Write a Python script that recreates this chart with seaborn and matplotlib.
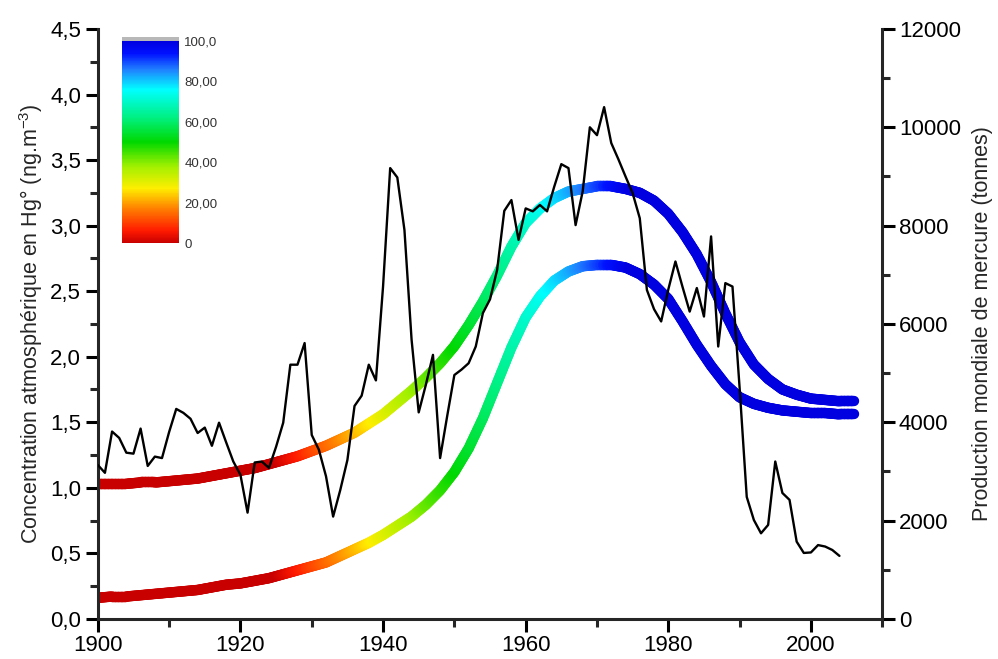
import numpy as np
import pandas as pd
import matplotlib
matplotlib.use("Agg")
import matplotlib.pyplot as plt
import seaborn as sns
from matplotlib.collections import LineCollection
from matplotlib.colors import LinearSegmentedColormap, Normalize
from matplotlib.cm import ScalarMappable
from matplotlib.ticker import MultipleLocator

# Données
# Production mondiale de mercure (tonnes), une valeur par année 1900-2004
annees_prod = np.arange(1900, 2005)
production = [
    3130, 2970, 3810, 3680, 3380, 3360, 3870, 3110, 3300, 3270,
    3800, 4270, 4190, 4070, 3780, 3890, 3520, 3990, 3590, 3200,
    2930, 2160, 3180, 3200, 3070, 3500, 3990, 5170, 5170, 5610,
    3740, 3440, 2900, 2080, 2620, 3230, 4330, 4540, 5170, 4850,
    6760, 9170, 8980, 7910, 5680, 4200, 4760, 5370, 3270, 4130,
    4960, 5070, 5200, 5540, 6220, 6500, 7100, 8300, 8520, 7710,
    8350, 8290, 8420, 8290, 8790, 9250, 9170, 8010, 8700, 10000,
    9840, 10410, 9680, 9350, 9000, 8660, 8150, 6690, 6300, 6050,
    6700, 7270, 6750, 6250, 6730, 6150, 7780, 5540, 6830, 6760,
    4700, 2480, 2010, 1740, 1910, 3200, 2560, 2420, 1570, 1340,
    1350, 1500, 1470, 1400, 1280,
]

# Concentrations atmosphériques reconstituées (ng.m-3), tous les 2 ans 1900-2006
annees_conc = np.arange(1900, 2007, 2)
conc_haute = [
    1.03, 1.03, 1.03, 1.04, 1.04, 1.05, 1.06, 1.07, 1.09, 1.11,
    1.13, 1.15, 1.18, 1.21, 1.24, 1.28, 1.32, 1.37, 1.42, 1.49,
    1.56, 1.65, 1.74, 1.84, 1.95, 2.08, 2.24, 2.42, 2.62, 2.84,
    3.02, 3.13, 3.21, 3.26, 3.28, 3.30, 3.30, 3.28, 3.25, 3.19,
    3.09, 2.95, 2.78, 2.57, 2.33, 2.11, 1.94, 1.83, 1.75, 1.71,
    1.68, 1.67, 1.66, 1.66,
]
conc_basse = [
    0.16, 0.17, 0.17, 0.18, 0.19, 0.20, 0.21, 0.22, 0.24, 0.26,
    0.27, 0.29, 0.31, 0.34, 0.37, 0.40, 0.43, 0.48, 0.53, 0.58,
    0.64, 0.71, 0.78, 0.87, 0.98, 1.12, 1.30, 1.53, 1.80, 2.07,
    2.30, 2.46, 2.58, 2.65, 2.69, 2.70, 2.70, 2.68, 2.63, 2.55,
    2.44, 2.27, 2.09, 1.93, 1.79, 1.69, 1.64, 1.61, 1.59, 1.58,
    1.57, 1.57, 1.56, 1.56,
]

# années où la couleur des courbes passe de 0 (rouge) à 100 (bleu)
annee_couleur_0 = 1925
annee_couleur_100 = 1975

xticks = [1900, 1920, 1940, 1960, 1980, 2000]
yticks_conc = [0, 0.5, 1, 1.5, 2, 2.5, 3, 3.5, 4, 4.5]
yticks_conc_lab = ["0,0", "0,5", "1,0", "1,5", "2,0", "2,5", "3,0", "3,5", "4,0", "4,5"]
yticks_prod = [0, 2000, 4000, 6000, 8000, 10000, 12000]
cb_ticks = [0, 20, 40, 60, 80, 100]
cb_ticks_lab = ["0", "20,00", "40,00", "60,00", "80,00", "100,0"]

# Style
sns.set_style("ticks")
plt.rcParams["font.family"] = ["Liberation Sans", "DejaVu Sans"]
plt.rcParams["mathtext.fontset"] = "custom"
plt.rcParams["mathtext.rm"] = "Liberation Sans"
plt.rcParams["mathtext.it"] = "Liberation Sans:italic"

# Palette rouge -> jaune -> vert -> cyan -> bleu (comme l'échelle de la figure)
palette = LinearSegmentedColormap.from_list("arc", [
    (0.00, "#c80000"), (0.06, "#ff1a00"), (0.17, "#ff8000"), (0.27, "#ffee00"),
    (0.38, "#a0f000"), (0.50, "#00d800"), (0.62, "#00f080"), (0.76, "#00ffff"),
    (0.86, "#2080ff"), (0.94, "#0010ff"), (1.00, "#0000e0"),
])
palette.set_over("#b8b8b8")
norme = Normalize(0, 100)

fig = plt.figure(figsize=(9.98, 6.59), dpi=100)
ax = fig.add_axes([0.098, 0.061, 0.786, 0.895])
ax2 = ax.twinx()


def courbe_coloree(axe, x, y, n_sub=10):
    x = np.asarray(x, dtype=float)
    y = np.asarray(y, dtype=float)
    segs, niveaux = [], []
    # chaque segment est découpé (même tracé droit) pour un dégradé continu
    for i in range(len(x) - 1):
        t = np.linspace(0, 1, n_sub + 1)
        xs = x[i] + t * (x[i + 1] - x[i])
        ys = y[i] + t * (y[i + 1] - y[i])
        for j in range(n_sub):
            segs.append([(xs[j], ys[j]), (xs[j + 1], ys[j + 1])])
            xm = (xs[j] + xs[j + 1]) / 2
            niveaux.append((xm - annee_couleur_0) / (annee_couleur_100 - annee_couleur_0) * 100)
    niveaux = np.clip(niveaux, 0, 100)
    lc = LineCollection(segs, cmap=palette, norm=norme, linewidths=7.5,
                        capstyle="round", joinstyle="round")
    lc.set_array(niveaux)
    axe.add_collection(lc)


courbe_coloree(ax, annees_conc, conc_haute)
courbe_coloree(ax, annees_conc, conc_basse)

df_prod = pd.DataFrame({"annee": annees_prod, "production": production})
sns.lineplot(data=df_prod, x="annee", y="production", ax=ax2, color="black", lw=1.7)

# Axes
ax.set_xlim(1900, 2010)
ax.set_ylim(0, 4.5)
ax2.set_ylim(0, 12000)
ax.set_xticks(xticks)
ax.set_xticklabels([str(a) for a in xticks])
ax.xaxis.set_minor_locator(MultipleLocator(10))
ax.set_yticks(yticks_conc)
ax.set_yticklabels(yticks_conc_lab)
ax.yaxis.set_minor_locator(MultipleLocator(0.25))
ax2.set_yticks(yticks_prod)
ax2.set_yticklabels([str(v) for v in yticks_prod])
ax2.yaxis.set_minor_locator(MultipleLocator(1000))

for a in (ax, ax2):
    a.spines["top"].set_visible(False)
    for s in a.spines.values():
        s.set_linewidth(2.2)
    a.tick_params(which="major", length=9, width=2.2, labelsize=16, direction="out",
                  colors="black", pad=3)
    a.tick_params(which="minor", length=5.5, width=2.2, direction="out")
ax.spines["right"].set_visible(False)
ax2.spines["left"].set_visible(False)
ax2.spines["bottom"].set_visible(False)

ax.set_xlabel("")
ax2.set_xlabel("")
ax.set_ylabel("Concentration atmosphérique en Hg° (ng.m$^{-3}$)", fontsize=15.5, labelpad=4)
ax2.set_ylabel("Production mondiale de mercure (tonnes)", fontsize=15.5, labelpad=8)

# Échelle de couleur
cax = fig.add_axes([0.122, 0.631, 0.057, 0.313])
cb = fig.colorbar(ScalarMappable(norm=norme, cmap=palette), cax=cax,
                  extend="max", extendrect=True, extendfrac=0.02)
cb.outline.set_visible(False)
cb.set_ticks(cb_ticks)
cb.set_ticklabels(cb_ticks_lab)
cax.tick_params(length=0, labelsize=9.5, labelcolor="#333333", pad=4)

fig.savefig("out.png", dpi=100)
